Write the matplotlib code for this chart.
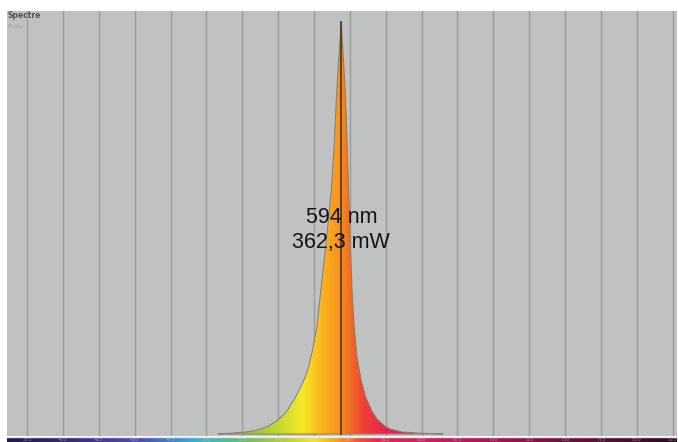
import numpy as np
import matplotlib.pyplot as plt
from matplotlib.colors import LinearSegmentedColormap
from matplotlib.patches import Polygon

# spectre mesuré (puissance relative, pic = 1)
wavelength_nm = [508, 518, 528, 536, 543, 550, 556, 561, 565, 568, 571, 574, 577, 579,
                 581, 583, 585, 587, 589, 590.5, 592, 594,
                 595.5, 597, 598.5, 600, 601.5, 603, 605, 608, 611, 615, 619, 624,
                 628, 636, 648, 665]
power_rel = [0.0, 0.002, 0.005, 0.01, 0.019, 0.034, 0.055, 0.083, 0.108, 0.131, 0.16,
             0.204, 0.26, 0.325, 0.39, 0.45, 0.52, 0.59, 0.7, 0.81, 0.9, 1.0,
             0.91, 0.82, 0.66, 0.49, 0.35, 0.26, 0.185, 0.128, 0.09, 0.058, 0.036, 0.02,
             0.012, 0.005, 0.002, 0.0]

peak_nm = 594
peak_label = "594 nm\n362,3 mW"
tick_nm = list(range(375, 826, 25))
x_min, x_max = 361, 828

# couleurs du remplissage selon la longueur d'onde
fill_stops = [(505, '#6fbe44'), (530, '#8dc63f'), (550, '#c4d92e'), (566, '#f4ea27'),
              (580, '#fbb51e'), (592, '#f7931e'), (600, '#f26b23'), (610, '#ee3f38'),
              (625, '#e8234f'), (670, '#de1a5c')]
# bande spectrale en bas
bar_stops = [(361, '#221c55'), (400, '#33287a'), (430, '#4a3c9e'), (455, '#4656bd'),
             (475, '#3a84d6'), (490, '#32b0e0'), (505, '#3fbfae'), (525, '#62c06c'),
             (555, '#b8d03a'), (575, '#f3e42c'), (592, '#f79a20'), (605, '#ee5a32'),
             (620, '#e42a52'), (650, '#d81d62'), (690, '#b5155a'), (730, '#8c1048'),
             (780, '#5e0c38'), (828, '#2e0a24')]


def make_cmap(stops, lo, hi):
    pos = [(w - lo) / (hi - lo) for w, _ in stops]
    return LinearSegmentedColormap.from_list('spec', list(zip(pos, [c for _, c in stops])))


fig = plt.figure(figsize=(6.78, 4.42), dpi=100, facecolor='white')
ax = fig.add_axes([7 / 678, 6 / 442, 670 / 678, 425 / 442])
ax.set_facecolor('#c0c2c1')
ax.set_xticks(tick_nm)
ax.set_yticks([])
ax.tick_params(length=0, labelbottom=False)
ax.grid(axis='x', color='#9a9c9c', lw=1.0)
ax.set_axisbelow(True)
for s in ax.spines.values():
    s.set_visible(False)

# remplissage en dégradé
lo, hi = fill_stops[0][0], fill_stops[-1][0]
grad = np.linspace(0, 1, 512).reshape(1, -1)
im = ax.imshow(grad, cmap=make_cmap(fill_stops, lo, hi), aspect='auto',
               extent=[lo, hi, 0, 1.0], zorder=2, interpolation='bilinear')
verts = list(zip(wavelength_nm, power_rel))
poly = Polygon(verts, closed=True, facecolor='none', edgecolor='#8a7d68', lw=0.7,
               transform=ax.transData, zorder=3)
ax.add_patch(poly)
im.set_clip_path(poly)
ax.set_xlim(x_min, x_max)
ax.set_ylim(-0.005, 1.027)

ax.plot([peak_nm, peak_nm], [0, max(power_rel)], color='#4a3418', lw=1.2, zorder=4)
ax.text(peak_nm, 0.495, peak_label, ha='center', va='center', fontsize=15.5,
        family='Liberation Sans', color='#141414', linespacing=1.3, zorder=5)

# bande spectrale
bax = fig.add_axes([7 / 678, 0, 670 / 678, 5 / 442])
bax.imshow(np.linspace(0, 1, 1024).reshape(1, -1), cmap=make_cmap(bar_stops, x_min, x_max),
           aspect='auto', extent=[x_min, x_max, 0, 1])
bax.set_xlim(x_min, x_max)
bax.set_ylim(0, 1)
bax.axis('off')
for t in tick_nm:
    bax.text(t, 0.5, str(t), ha='center', va='center', fontsize=3.6,
             color='#d8d0dc', alpha=0.55)
fig.add_artist(plt.Line2D([7 / 678, 677 / 678], [5.5 / 442, 5.5 / 442],
                          color='#e4e4e4', lw=1.0))

fig.text(8 / 678, 1 - 16 / 442, 'Spectre', fontsize=5.5, weight='bold', color='#555555',
         va='center')
fig.text(8 / 678, 1 - 27 / 442, '8 ms', fontsize=4.5, color='#9a9a9a', va='center')

fig.savefig('out.png', dpi=100, facecolor='white')
